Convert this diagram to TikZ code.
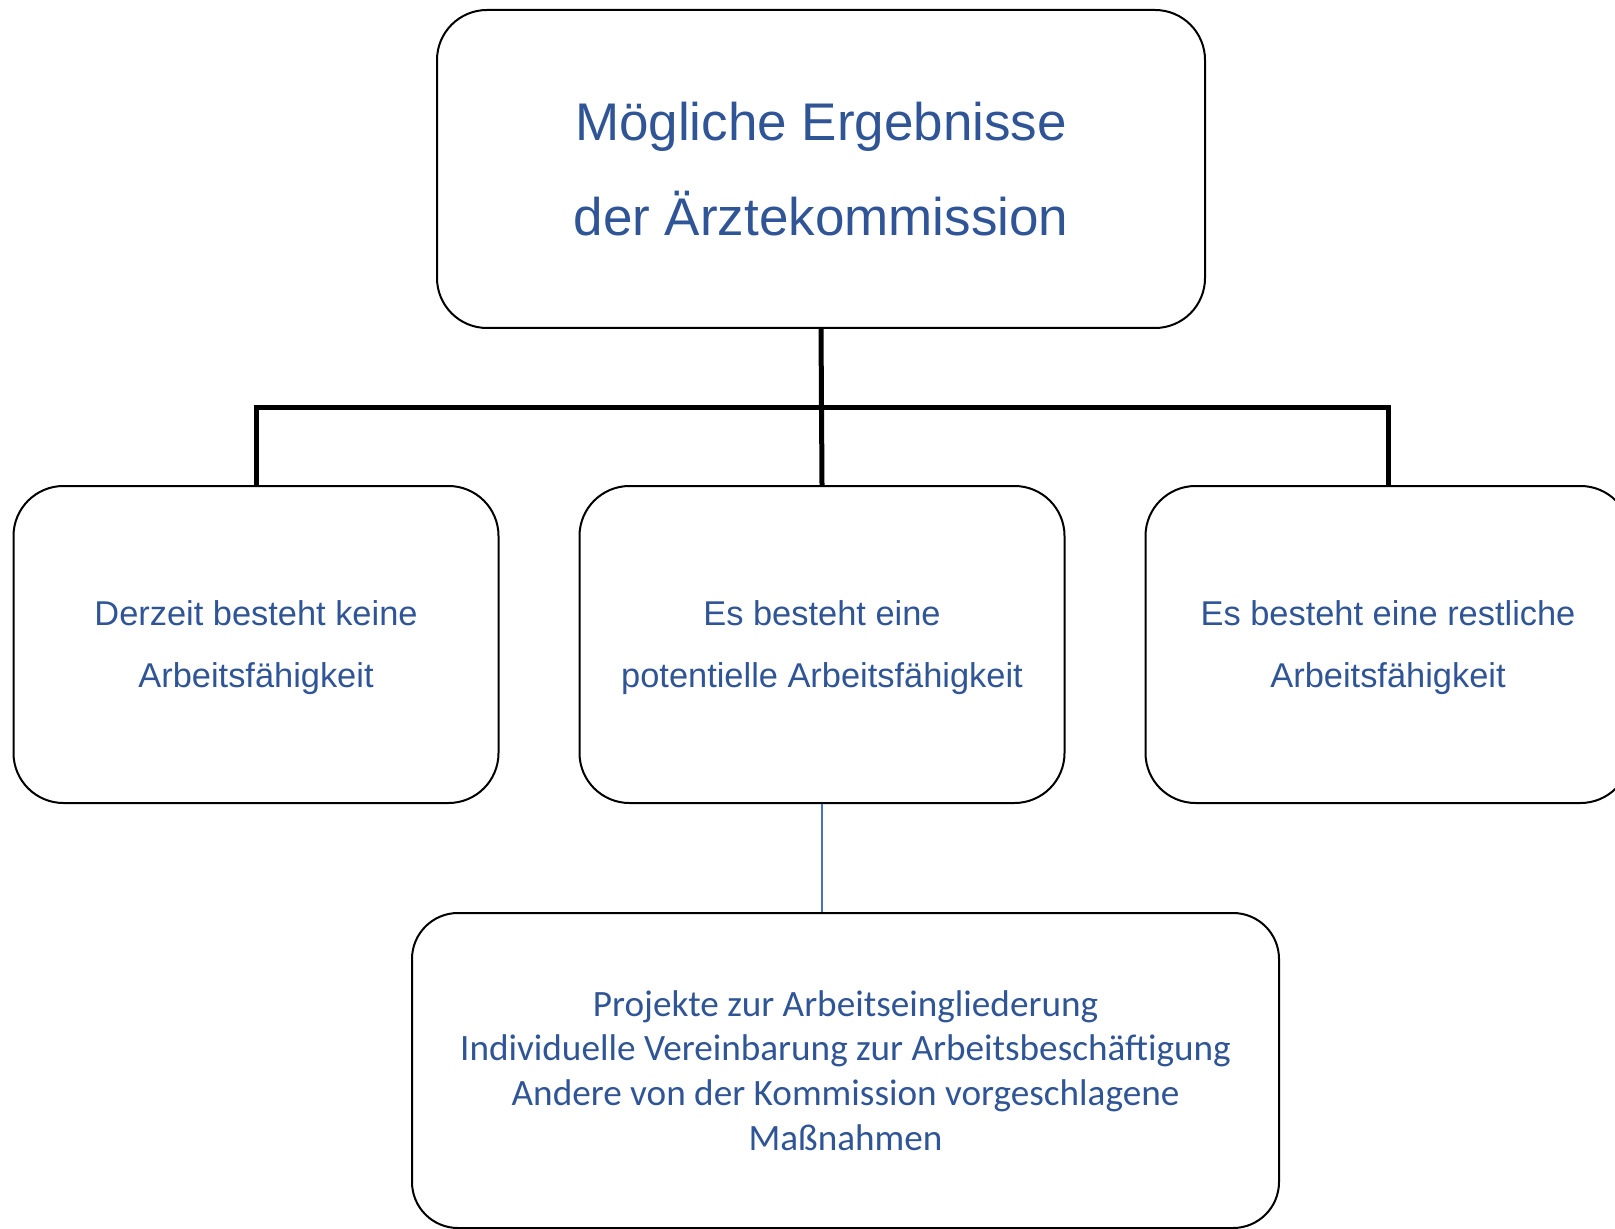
\documentclass[tikz,border=0pt]{standalone}
\usepackage{fontspec}
\setmainfont{Liberation Sans}
\newfontfamily\calibrifont{Carlito}
\usetikzlibrary{positioning}
\definecolor{txtblue}{RGB}{47,85,151}
\definecolor{lineblue}{RGB}{68,114,196}
\tikzstyle{stdBox} = [shape = rectangle, draw, line width = 1pt, rounded corners = 25pt, inner sep = 0pt, align = center, text = txtblue]
\tikzstyle{titleBox} = [stdBox, minimum width = 384pt, minimum height = 159pt, font = \fontsize{26.5}{47.5}\selectfont]
\tikzstyle{resultBox} = [stdBox, minimum width = 242.5pt, minimum height = 158.5pt, text depth = 0pt, font = \fontsize{17.2}{31}\selectfont]
\tikzstyle{measureBox} = [stdBox, rounded corners = 23pt, minimum width = 433.5pt, minimum height = 157.5pt, font = \calibrifont\fontsize{18.6}{22.4}\selectfont]
\tikzstyle{branch} = [line width = 2.5pt]
\tikzstyle{link} = [line width = 0.75pt, color = lineblue]

\begin{document}
\begin{tikzpicture}[x=0.5pt, y=-0.5pt]
			\useasboundingbox (0,0) rectangle (1615,1229);
			\clip (0,0) rectangle (1615,1229);
			\node (Title) at (821,169) [titleBox] {
				Mögliche Ergebnisse\\der Ärztekommission
			};
			\node (Potential) at (822,644.5) [resultBox] {
				Es besteht eine\\potentielle Arbeitsfähigkeit
			};
			\node (None) [resultBox, left = 39.5pt of Potential] {
				Derzeit besteht keine\\Arbeitsfähigkeit
			};
			\node (Rest) [resultBox, right = 39.5pt of Potential] {
				Es besteht eine restliche\\Arbeitsfähigkeit
			};
			\node (Measures) [measureBox, below = 54pt of Potential, xshift = 11.75pt] {
				Projekte zur Arbeitseingliederung\\
				Individuelle Vereinbarung zur Arbeitsbeschäftigung\\
				Andere von der Kommission vorgeschlagene\\
				Maßnahmen
			};
			\draw[branch] (Title.south) -- (Potential.north);
			\draw[branch] (None.north) -- ++(0,-77) -| (Rest.north);
			\draw[link] (Potential.south) -- (Potential.south |- Measures.north);
\end{tikzpicture}
\end{document}
